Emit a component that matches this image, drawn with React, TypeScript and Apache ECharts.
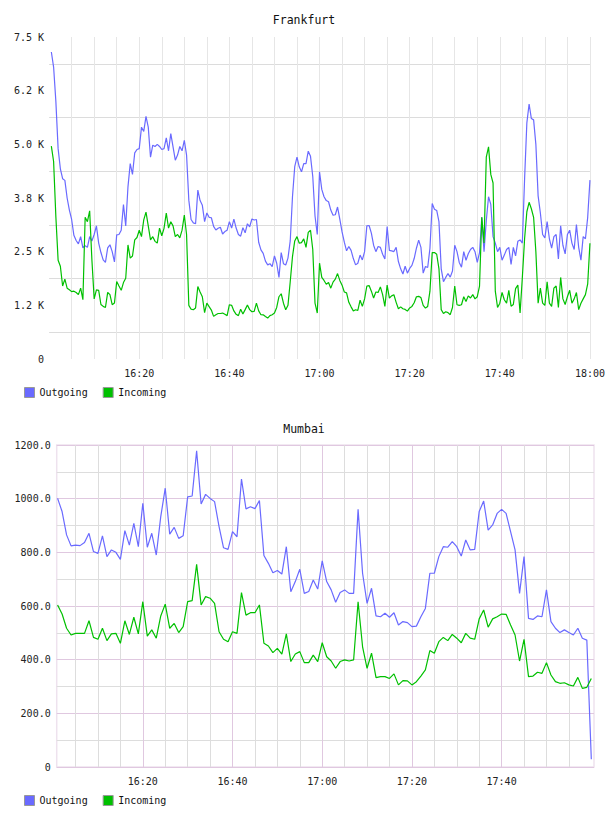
import React, { useEffect, useRef } from 'react';
import * as echarts from 'echarts';

// ---------- Frankfurt (samples every 0.5 min from 16:00:30) ----------
const FRA_START_MIN = 0.5;
const FRA_STEP_MIN = 0.5;
const FRA_OUT = [
  7150, 6800, 6000, 4900, 4430, 4200, 4160, 3750, 3470, 3250,
  2880, 2760, 2680, 2850, 2590, 2640, 2600, 2850, 2750, 2900,
  3100, 2700, 2480, 2310, 2250, 2590, 2660, 2500, 2260, 2890,
  2900, 3000, 3600, 3100, 4010, 4550, 4300, 4800, 4880, 4900,
  5400, 5300, 5650, 5400, 4700, 4980, 4950, 5000, 4950, 4880,
  4900, 5150, 4850, 5250, 4940, 4630, 4750, 4950, 4850, 5095,
  4750, 3700, 3250, 3170, 3150, 3934, 3690, 3580, 3200, 3400,
  3300, 3290, 3090, 3005, 3044, 3070, 2912, 2967, 3000, 3198,
  3050, 3260, 3050, 2900, 2860, 3060, 2940, 3150, 3080, 3260,
  3237, 3250, 2720, 2540, 2460, 2280, 2192, 2220, 2150, 2400,
  2230, 1900, 2480, 2220, 2190, 2350, 2750, 3779, 4480, 4700,
  4475, 4360, 4550, 4550, 4840, 4720, 4250, 3330, 2900, 4360,
  3950, 3780, 3690, 3663, 3469, 3350, 3360, 3540, 3260, 2960,
  2720, 2520, 2620, 2530, 2340, 2192, 2231, 2420, 2308, 2500,
  3100, 3110, 2930, 2650, 2500, 2620, 2600, 2440, 2330, 3083,
  2530, 2520, 2502, 2600, 2270, 2100, 1980, 2160, 2000, 2110,
  2180, 2340, 2580, 2770, 2600, 2000, 2153, 2130, 2580, 3620,
  3490, 3460, 3200, 2100, 1800, 1900, 1990, 1906, 2050, 2650,
  2502, 2250, 2140, 2500, 2300, 2450, 2550, 2600, 2500, 2250,
  2480, 3300, 2500, 3220, 3779, 3600, 2850, 2700, 2500, 2600,
  2300, 2420, 2550, 2600, 2200, 2600, 2400, 2740, 2773, 2700,
  4200, 5500, 5940, 5600, 5570, 5000, 3800, 3400, 2900, 2820,
  3200, 2800, 2580, 2850, 2900, 2330, 3100, 2650, 2450, 2900,
  3000, 2700, 2550, 3130, 2600, 2300, 2850, 2800, 3300, 4166,
];
const FRA_IN = [
  4960, 4600, 3314, 2300, 2160, 1700, 1860, 1650, 1612, 1570,
  1580, 1550, 1500, 1650, 1380, 3300, 3198, 3450, 2300, 1400,
  1612, 1600, 1270, 1225, 1200, 1550, 1500, 1264, 1302, 1806,
  1700, 1600, 1780, 1880, 2657, 2350, 2400, 2773, 2830, 3000,
  2850, 3240, 3420, 3100, 2773, 2850, 2740, 2700, 3050, 2870,
  3044, 3400, 3050, 3198, 3100, 2850, 2900, 2820, 3000, 3353,
  2900, 1250, 1160, 1148, 1190, 1689, 1560, 1450, 1080, 1300,
  1220, 1140, 993, 1032, 1060, 1060, 1070, 1040, 1010, 1264,
  1250, 1120, 1040, 1010, 1160, 1050, 1150, 1260, 1150, 1100,
  1109, 1300, 1120, 1032, 1030, 990, 954, 1010, 1032, 1070,
  1200, 1450, 1520, 1300, 1148, 1250, 1800, 2385, 2750, 2850,
  2695, 2710, 2800, 2600, 2950, 3000, 2550, 1300, 1070, 2231,
  1900, 1830, 1740, 1780, 1650, 1790, 1860, 1990, 1830, 1720,
  1560, 1540, 1320, 1215, 1120, 1148, 1130, 1370, 1225, 1400,
  1700, 1710, 1580, 1420, 1560, 1550, 1680, 1500, 1225, 1720,
  1420, 1470, 1496, 1320, 1170, 1215, 1170, 1155, 1115, 1190,
  1225, 1310, 1450, 1460, 1430, 1250, 1186, 1225, 1580, 2480,
  2480, 2440, 2100, 1150, 1060, 1100, 1080, 1032, 1200, 1700,
  1264, 1250, 1264, 1450, 1340, 1470, 1420, 1500, 1400, 1450,
  1700, 3300, 2700, 4700, 4940, 4300, 4100, 1580, 1200, 1300,
  1550, 1380, 1300, 1600, 1230, 1270, 1640, 1720, 1070, 1900,
  2800, 3430, 3650, 3500, 3300, 2500, 1300, 1650, 1300, 1250,
  1800, 1300, 1225, 1650, 1700, 1200, 1900, 1400, 1270, 1450,
  1600, 1300, 1400, 1550, 1150, 1300, 1400, 1500, 1750, 2695,
];

// ---------- Mumbai (samples every minute from 16:01) ----------
const MUM_START_MIN = 1;
const MUM_STEP_MIN = 1;
const MUM_OUT = [
  1001, 952, 865, 824, 827, 825, 837, 871, 803, 796,
  861, 784, 809, 800, 774, 881, 827, 908, 821, 983,
  819, 871, 790, 933, 1039, 868, 893, 852, 862, 1007,
  1010, 1178, 980, 1016, 1001, 989, 896, 817, 811, 877,
  858, 1073, 962, 970, 963, 993, 788, 759, 724, 732,
  719, 821, 653, 691, 737, 647, 654, 697, 663, 768,
  691, 660, 614, 650, 660, 647, 647, 960, 722, 610,
  666, 563, 560, 573, 558, 575, 529, 542, 538, 523,
  525, 560, 591, 722, 722, 784, 821, 819, 840, 821,
  786, 846, 809, 811, 952, 991, 883, 902, 945, 960,
  945, 877, 809, 647, 784, 554, 550, 563, 560, 660,
  542, 517, 501, 511, 501, 492, 517, 480, 473, 29,
];
const MUM_IN = [
  604, 570, 517, 492, 498, 498, 498, 545, 483, 476,
  517, 471, 496, 498, 461, 545, 494, 558, 496, 616,
  488, 511, 480, 563, 607, 517, 535, 501, 523, 616,
  620, 755, 604, 635, 629, 610, 504, 476, 467, 504,
  498, 650, 566, 575, 575, 604, 461, 451, 426, 442,
  421, 496, 393, 421, 430, 389, 389, 417, 393, 463,
  411, 395, 368, 393, 399, 395, 399, 616, 448, 368,
  424, 333, 337, 337, 330, 347, 306, 322, 321, 306,
  318, 339, 362, 434, 424, 467, 483, 471, 494, 480,
  463, 498, 480, 476, 552, 585, 521, 552, 560, 570,
  569, 529, 492, 395, 476, 337, 339, 353, 349, 389,
  343, 318, 312, 314, 306, 302, 334, 293, 297, 330,
];

// ---------- Tick labels ----------
const TIME_TICKS = [20, 40, 60, 80, 100, 120];
const TIME_LABELS = ['16:20', '16:40', '17:00', '17:20', '17:40', '18:00'];
const MUM_TIME_TICKS = [20, 40, 60, 80, 100];
const MUM_GRID_MINUTES = [5, 10, 15, 20, 25, 30, 35, 40, 45, 50, 55, 60, 65, 70, 75, 80, 85, 90, 95, 100, 105, 110, 115];
const FRA_Y_LABELS = ['0', '1.2 K', '2.5 K', '3.8 K', '5.0 K', '6.2 K', '7.5 K'];
const MUM_Y_LABELS = ['0', '200.0', '400.0', '600.0', '800.0', '1000.0', '1200.0'];
const SERIES_NAMES = ['Outgoing', 'Incoming'];

const BLUE = '#6a6aff';
const GREEN = '#00c000';
const FONT = 'DejaVu Sans Mono';

function toPairs(values: number[], start: number, step: number) {
  return values.map((v, i) => [start + i * step, v]);
}

function timeFmt(v: number) {
  const i = TIME_TICKS.indexOf(Math.round(v));
  return i >= 0 && Math.abs(v - TIME_TICKS[i]) < 1e-6 ? TIME_LABELS[i] : '';
}

export default function App() {
  const ref = useRef<HTMLDivElement>(null);
  useEffect(() => {
    if (!ref.current) return;
    const chart = echarts.init(ref.current, undefined, { renderer: 'svg' });
    const labelStyle = { fontFamily: FONT, fontSize: 10, color: '#222' };
    const legendBase = {
      left: 24,
      itemWidth: 10,
      itemHeight: 10,
      itemGap: 15,
      icon: 'rect',
      padding: 0,
      selectedMode: false,
      textStyle: { fontFamily: FONT, fontSize: 10, color: '#111', padding: [0, 0, 0, 0] },
      itemStyle: { borderColor: '#999', borderWidth: 1 },
      data: SERIES_NAMES,
    };
    chart.setOption({
      animation: false,
      backgroundColor: '#fff',
      title: [
        { text: 'Frankfurt', left: 'center', top: 14, padding: 0, textStyle: { fontFamily: FONT, fontSize: 11.5, fontWeight: 'normal', color: '#111' } },
        { text: 'Mumbai', left: 'center', top: 423, padding: 0, textStyle: { fontFamily: FONT, fontSize: 11.5, fontWeight: 'normal', color: '#111' } },
      ],
      legend: [
        { ...legendBase, top: 387 },
        { ...legendBase, top: 795 },
      ],
      grid: [
        { left: 49.1, top: 37, width: 542.6, height: 322, show: false },
        { left: 56.7, top: 445, width: 537.3, height: 322, show: true, borderColor: '#eee2ee', borderWidth: 1.5, backgroundColor: 'transparent' },
      ],
      xAxis: [
        {
          type: 'value', gridIndex: 0, min: 0, max: 120, interval: 5,
          axisLine: { show: false }, axisTick: { show: false },
          axisLabel: { ...labelStyle, margin: 9, formatter: timeFmt, showMinLabel: false },
          splitLine: { show: true, showMinLine: false, lineStyle: { color: '#e6e6e6', width: 1 } },
        },
        {
          type: 'value', gridIndex: 1, min: 0.8, max: 120.6,
          axisLine: { show: false },
          axisTick: { show: false, customValues: MUM_GRID_MINUTES },
          axisLabel: { ...labelStyle, margin: 9, customValues: MUM_TIME_TICKS, formatter: timeFmt },
          splitLine: { show: true, lineStyle: { color: ['#dddddd', '#dddddd', '#dddddd', '#e0c8e0'], width: 1 } },
        },
      ],
      yAxis: [
        {
          type: 'value', gridIndex: 0, min: 0, max: 7500, interval: 625,
          axisLine: { show: false }, axisTick: { show: false },
          axisLabel: {
            ...labelStyle, margin: 5,
            formatter: (v: number) => (v % 1250 === 0 ? FRA_Y_LABELS[v / 1250] : ''),
          },
          splitLine: { show: true, lineStyle: { color: ['rgba(0,0,0,0)', '#dcdcdc'], width: 1 } },
        },
        {
          type: 'value', gridIndex: 1, min: 0, max: 1200, interval: 100,
          axisLine: { show: false }, axisTick: { show: false },
          axisLabel: {
            ...labelStyle, margin: 6,
            formatter: (v: number) => (v % 200 === 0 ? MUM_Y_LABELS[v / 200] : ''),
          },
          splitLine: { show: true, lineStyle: { color: ['#e0c8e0', '#dddddd'], width: 1 } },
        },
      ],
      series: [
        { name: SERIES_NAMES[0], type: 'line', xAxisIndex: 0, yAxisIndex: 0, symbol: 'none', color: BLUE, lineStyle: { width: 1.2, color: BLUE }, data: toPairs(FRA_OUT, FRA_START_MIN, FRA_STEP_MIN) },
        { name: SERIES_NAMES[1], type: 'line', xAxisIndex: 0, yAxisIndex: 0, symbol: 'none', color: GREEN, lineStyle: { width: 1.2, color: GREEN }, data: toPairs(FRA_IN, FRA_START_MIN, FRA_STEP_MIN) },
        { name: SERIES_NAMES[0], type: 'line', xAxisIndex: 1, yAxisIndex: 1, symbol: 'none', color: BLUE, lineStyle: { width: 1.2, color: BLUE }, data: toPairs(MUM_OUT, MUM_START_MIN, MUM_STEP_MIN) },
        { name: SERIES_NAMES[1], type: 'line', xAxisIndex: 1, yAxisIndex: 1, symbol: 'none', color: GREEN, lineStyle: { width: 1.2, color: GREEN }, data: toPairs(MUM_IN, MUM_START_MIN, MUM_STEP_MIN) },
      ],
    });
    return () => chart.dispose();
  }, []);
  return <div ref={ref} style={{ position: 'absolute', left: 0, top: 0, width: 608, height: 816 }} />;
}
